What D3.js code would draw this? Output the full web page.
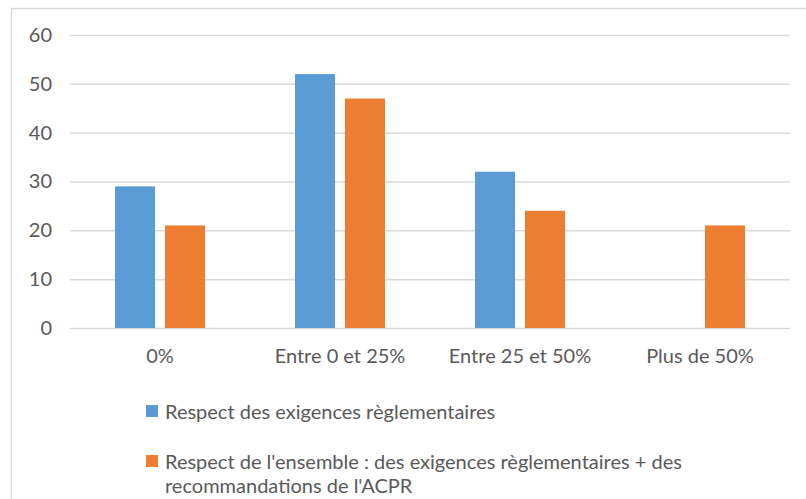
<!DOCTYPE html>
<html lang="en">
<head>
<meta charset="UTF-8">
<title>Bar chart</title>
<script src="https://d3js.org/d3.v7.min.js"></script>
<style>
  body { margin: 0; background: #fff; }
  text { font-family: Lato, "Open Sans", sans-serif; fill: #595959; }
</style>
</head>
<body>
<svg width="806" height="499"></svg>
<script>
    // data
    var categories = ["0%", "Entre 0 et 25%", "Entre 25 et 50%", "Plus de 50%"];
    var seriesNames = ["Respect des exigences règlementaires",
        "Respect de l'ensemble : des exigences règlementaires + des recommandations de l'ACPR"];
    var blueValues = [29, 52, 32, 0];
    var orangeValues = [21, 47, 24, 21];
    var yTicks = [0, 10, 20, 30, 40, 50, 60];
    var colors = ["#5B9BD5", "#ED7D31"];

    var svg = d3.select("svg");

    // chart border
    svg.append("rect")
        .attr("x", 11.5).attr("y", 8.5)
        .attr("width", 800).attr("height", 500)
        .attr("fill", "none")
        .attr("stroke", "#d9d9d9")
        .attr("stroke-width", 1.5);

    var x0 = d3.scaleBand().domain(categories).range([70, 790]);
    var x1 = d3.scaleBand().domain([0, 1]).range([45, 135]).paddingInner(0.2);
    var y = d3.scaleLinear().domain([0, 60]).range([328, 35]);

    var gy = svg.append("g")
        .attr("transform", "translate(70,0)")
        .call(d3.axisLeft(y).tickValues(yTicks).tickSize(-720).tickPadding(18));
    gy.select(".domain").remove();
    gy.selectAll(".tick line").attr("stroke", "#d9d9d9").attr("stroke-width", 1.5);
    gy.selectAll(".tick text").attr("font-size", 20).attr("fill", "#595959");

    var rows = categories.map(function (c, i) {
        return {cat: c, values: [blueValues[i], orangeValues[i]]};
    });

    svg.append("g").selectAll("g")
        .data(rows)
        .join("g")
        .attr("transform", function (d) { return "translate(" + x0(d.cat) + ",0)"; })
        .selectAll("rect")
        .data(function (d) { return d.values.map(function (v, k) { return {k: k, v: v}; }); })
        .join("rect")
        .filter(function (d) { return d.v > 0; })
        .attr("x", function (d) { return x1(d.k); })
        .attr("y", function (d) { return y(d.v); })
        .attr("width", x1.bandwidth())
        .attr("height", function (d) { return y(0) - y(d.v); })
        .attr("fill", function (d) { return colors[d.k]; });

    var gx = svg.append("g")
        .attr("transform", "translate(0,328)")
        .call(d3.axisBottom(x0).tickSize(0).tickPadding(21));
    gx.select(".domain").remove();
    gx.selectAll(".tick text").attr("font-size", 20).attr("fill", "#595959");

    // legend
    var legend = svg.append("g");
    legend.append("rect").attr("x", 146).attr("y", 405).attr("width", 12).attr("height", 12).attr("fill", colors[0]);
    legend.append("text").attr("x", 165).attr("y", 419).attr("font-size", 20).text(seriesNames[0]);

    legend.append("rect").attr("x", 146).attr("y", 455).attr("width", 12).attr("height", 12).attr("fill", colors[1]);
    var t2 = legend.append("text").attr("x", 165).attr("y", 469).attr("font-size", 20);
    t2.append("tspan").attr("x", 165).text("Respect de l'ensemble : des exigences règlementaires + des");
    t2.append("tspan").attr("x", 165).attr("dy", 24).text("recommandations de l'ACPR");
</script>
</body>
</html>
